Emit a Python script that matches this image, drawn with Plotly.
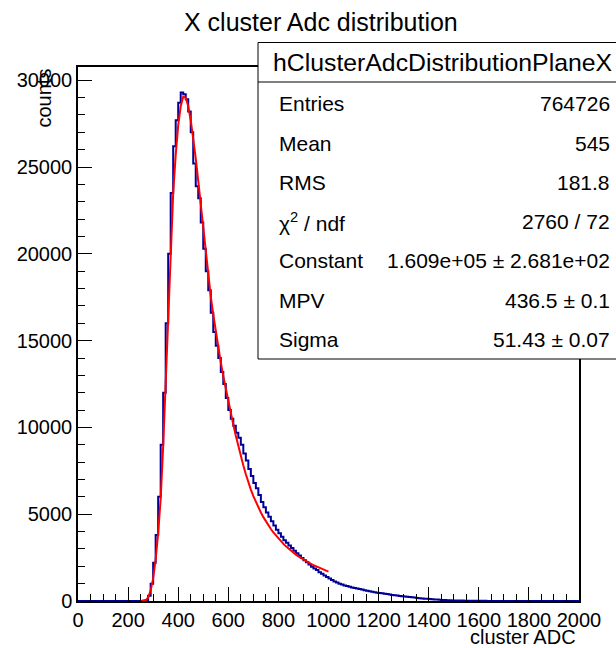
import plotly.graph_objects as go

# ---------------- data ----------------
TITLE = "X cluster Adc distribution"
X_TITLE = "cluster ADC"
Y_TITLE = "counts"
HIST_NAME = "hClusterAdcDistributionPlaneX"

X_MIN, X_MAX, BIN_WIDTH = 0, 2000, 10

# bin contents, bins of width 10 from 0 to 2000
COUNTS = [
    0, 0, 0, 0, 0, 0, 0, 0, 0, 0,
    0, 0, 0, 0, 0, 0, 0, 0, 0, 0,
    0, 0, 0, 0, 0, 0, 10, 60, 300, 1000,
    2200, 3800, 6000, 9000, 12000, 16000, 20000, 23500, 26200, 27700,
    28700, 29300, 29200, 28900, 28200, 27000, 25200, 23900, 23200, 21800,
    20300, 19000, 17900, 16600, 15500, 14700, 14000, 13200, 12500, 11700,
    11000, 10500, 10100, 9700, 9400, 9000, 8500, 8100, 7600, 7200,
    6800, 6500, 6100, 5700, 5400, 5100, 4850, 4600, 4350, 4100,
    3900, 3700, 3500, 3350, 3200, 3050, 2900, 2750, 2620, 2480,
    2350, 2230, 2100, 1980, 1870, 1780, 1660, 1570, 1470, 1380,
    1290, 1210, 1130, 1060, 1000, 950, 900, 860, 820, 780,
    750, 720, 690, 660, 620, 590, 560, 530, 510, 480,
    460, 440, 420, 400, 370, 350, 330, 310, 295, 280,
    260, 245, 225, 210, 195, 180, 165, 150, 135, 125,
    110, 100, 90, 80, 70, 60, 55, 45, 40, 35,
    30, 27, 24, 22, 20, 18, 16, 14, 12, 11,
    10, 9, 8, 7, 6, 6, 5, 5, 4, 4,
    3, 3, 3, 2, 2, 2, 2, 1, 1, 1,
    1, 1, 1, 1, 0, 1, 0, 0, 1, 0,
    0, 0, 1, 0, 0, 0, 0, 0, 0, 0,
]

FIT_X_START, FIT_X_STEP = 250, 10
FIT_Y = [
    0, 5, 40, 200, 600, 1300, 2400, 3900, 5900, 8900,
    12800, 16800, 20500, 23500, 25700, 27400, 28500, 29050, 29000, 28500,
    27700, 26700, 25500, 24200, 22800, 21400, 20000, 18700, 17550, 16500,
    15500, 14600, 13750, 12950, 12200, 11500, 10820, 10160, 9520, 8910,
    8330, 7800, 7300, 6833, 6421, 6046, 5702, 5387, 5098, 4831,
    4584, 4356, 4145, 3948, 3766, 3595, 3436, 3288, 3148, 3018,
    2895, 2780, 2671, 2569, 2472, 2381, 2295, 2213, 2136, 2062,
    1993, 1926, 1863, 1804, 1747, 1692,
]

STATS_ROWS = [
    ("Entries", "764726"),
    ("Mean", "545"),
    ("RMS", "181.8"),
    ("\u03c7<sup>2</sup> / ndf", "2760 / 72"),
    ("Constant", "1.609e+05 \u00b1 2.681e+02"),
    ("MPV", "436.5 \u00b1 0.1"),
    ("Sigma", "51.43 \u00b1 0.07"),
]

X_DTICK, X_MINOR = 200, 50
Y_DTICK, Y_MINOR = 5000, 1000

# ---------------- layout geometry (pixels) ----------------
W, H = 616, 648
PX_L, PX_R, PY_T, PY_B = 78, 579, 67, 601
FONT = "Liberation Sans, Arial, Helvetica, sans-serif"
HIST_COLOR = "#000099"
FIT_COLOR = "#ff0000"


def px(x):
    return (x - PX_L) / (PX_R - PX_L)


def py(y):
    return (PY_B - y) / (PY_B - PY_T)


edges = [X_MIN + i * BIN_WIDTH for i in range(len(COUNTS))] + [X_MAX]
hist_y = COUNTS + [COUNTS[-1]]
fit_x = [FIT_X_START + i * FIT_X_STEP for i in range(len(FIT_Y))]
y_max = 1.05 * max(COUNTS)

fig = go.Figure()
fig.add_trace(go.Scatter(x=edges, y=hist_y, mode="lines", line_shape="hv",
                         line=dict(color=HIST_COLOR, width=2), hoverinfo="skip"))
fig.add_trace(go.Scatter(x=fit_x, y=FIT_Y, mode="lines",
                         line=dict(color=FIT_COLOR, width=2), hoverinfo="skip"))

axis_common = dict(showgrid=False, zeroline=False, showline=True, mirror=True,
                   linecolor="black", linewidth=1.5, ticks="inside",
                   tickcolor="black", tickwidth=1, ticklen=14,
                   tickfont=dict(family=FONT, size=20, color="black"))

fig.update_xaxes(range=[X_MIN, X_MAX], dtick=X_DTICK, tick0=0,
                 minor=dict(ticks="inside", ticklen=7, dtick=X_MINOR,
                            tickcolor="black", tickwidth=1),
                 **axis_common)
fig.update_yaxes(range=[0, y_max], dtick=Y_DTICK, tick0=0, tickformat="d",
                 minor=dict(ticks="inside", ticklen=7, dtick=Y_MINOR,
                            tickcolor="black", tickwidth=1),
                 **axis_common)

annotations = [
    dict(text=TITLE, x=px(321), y=py(22), xref="paper", yref="paper",
         xanchor="center", yanchor="middle", showarrow=False,
         font=dict(family=FONT, size=25, color="black")),
    dict(text=X_TITLE, x=px(578), y=py(637), xref="paper", yref="paper",
         xanchor="right", yanchor="middle", showarrow=False,
         font=dict(family=FONT, size=20, color="black")),
    dict(text=Y_TITLE, x=px(43), y=py(67), xref="paper", yref="paper",
         xanchor="center", yanchor="top", textangle=-90, showarrow=False,
         font=dict(family=FONT, size=20, color="black")),
    dict(text=HIST_NAME, x=px(442.5), y=py(62), xref="paper", yref="paper",
         xanchor="center", yanchor="middle", showarrow=False,
         font=dict(family=FONT, size=24.8, color="black")),
]
for i, (label, value) in enumerate(STATS_ROWS):
    yy = 104 + 39.2 * i
    annotations.append(dict(text=label, x=px(277), y=py(yy), xref="paper", yref="paper",
                            xanchor="left", yanchor="middle", showarrow=False,
                            font=dict(family=FONT, size=21, color="black")))
    annotations.append(dict(text=value, x=px(612), y=py(yy), xref="paper", yref="paper",
                            xanchor="right", yanchor="middle", showarrow=False,
                            font=dict(family=FONT, size=21, color="black")))

shapes = [
    dict(type="rect", xref="paper", yref="paper", x0=px(258), x1=px(618),
         y0=py(359), y1=py(42.5), fillcolor="white",
         line=dict(color="black", width=1), layer="above"),
    dict(type="line", xref="paper", yref="paper", x0=px(258), x1=px(618),
         y0=py(82), y1=py(82), line=dict(color="black", width=1), layer="above"),
]

fig.update_layout(width=W, height=H, autosize=False,
                  margin=dict(l=PX_L, r=W - PX_R, t=PY_T, b=H - PY_B, pad=0),
                  paper_bgcolor="white", plot_bgcolor="white",
                  showlegend=False, annotations=annotations, shapes=shapes)

fig.write_html("out.html", config={"displayModeBar": False},
               post_script="document.body.style.margin='0';document.body.style.overflow='hidden';")
